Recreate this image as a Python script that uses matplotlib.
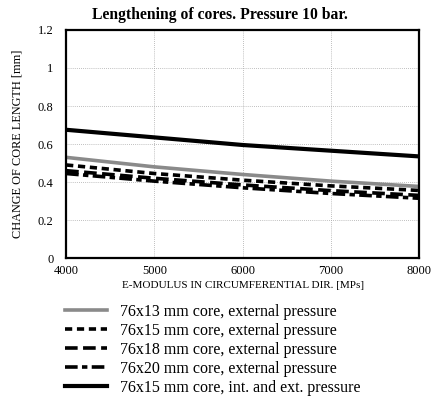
import matplotlib
matplotlib.use("Agg")
import matplotlib.pyplot as plt

plt.rcParams['font.family'] = ['Liberation Serif', 'DejaVu Serif']

# E-modulus [MPa] and core lengthening [mm]
emod = [4000, 5000, 6000, 7000, 8000]
core13_ext = [0.53, 0.48, 0.44, 0.405, 0.377]
core15_ext = [0.49, 0.445, 0.41, 0.38, 0.356]
core18_ext = [0.46, 0.42, 0.385, 0.355, 0.33]
core20_ext = [0.445, 0.405, 0.37, 0.34, 0.315]
core15_int_ext = [0.675, 0.635, 0.595, 0.565, 0.535]

labels = ["76x13 mm core, external pressure",
          "76x15 mm core, external pressure",
          "76x18 mm core, external pressure",
          "76x20 mm core, external pressure",
          "76x15 mm core, int. and ext. pressure"]

fig = plt.figure(figsize=(4.32, 3.99), dpi=100)
ax = fig.add_axes([0.153, 0.353, 0.817, 0.572])

l1, = ax.plot(emod, core13_ext, color="#8a8a8a", lw=2.6)
l2, = ax.plot(emod, core15_ext, color="black", lw=2.6, dashes=(2.0, 1.3))
l3, = ax.plot(emod, core18_ext, color="black", lw=2.6, dashes=(3.5, 1.5))
l4, = ax.plot(emod, core20_ext, color="black", lw=2.6, dashes=(3.5, 1.2, 1.5, 1.2))
l5, = ax.plot(emod, core15_int_ext, color="black", lw=3.0)

ax.set_xlim(4000, 8000)
ax.set_ylim(0, 1.2)
ax.set_xticks([4000, 5000, 6000, 7000, 8000])
ax.set_yticks([0, 0.2, 0.4, 0.6, 0.8, 1, 1.2])
ax.set_yticklabels(["0", "0.2", "0.4", "0.6", "0.8", "1", "1.2"])
ax.tick_params(length=0, labelsize=9)
ax.tick_params(axis="y", pad=9)
ax.tick_params(axis="x", pad=5)
ax.grid(True, color="#aaaaaa", lw=0.6, ls=(0, (1, 1.5)))
for s in ax.spines.values():
    s.set_linewidth(1.6)

# title sits centred on the page rather than over the axes
fig.text(0.508, 0.962, "Lengthening of cores. Pressure 10 bar.", fontsize=11.3,
         fontweight="bold", ha="center", va="center")
ax.set_xlabel("E-MODULUS IN CIRCUMFERENTIAL DIR. [MPs]", fontsize=8, labelpad=3)
ax.set_ylabel("CHANGE OF CORE LENGTH [mm]", fontsize=8.8, labelpad=10)

fig.legend([l1, l2, l3, l4, l5], labels, loc="upper left",
           bbox_to_anchor=(0.133, 0.258), frameon=False, fontsize=11.5,
           handlelength=2.6, handletextpad=0.8, labelspacing=0.18,
           borderpad=0)

fig.savefig("out.png", dpi=100)
